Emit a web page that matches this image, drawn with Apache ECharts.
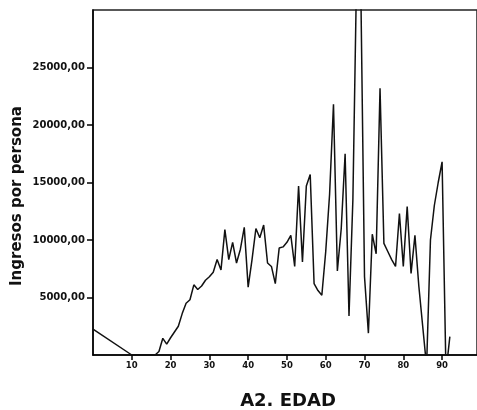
<!DOCTYPE html>
<html>
<head>
<meta charset="utf-8">
<script src="https://cdn.jsdelivr.net/npm/echarts@6/dist/echarts.min.js"></script>
<style>
html,body{margin:0;padding:0;background:#fff;}
#chart{width:477px;height:410px;}
</style>
</head>
<body>
<div id="chart"></div>
<script>
// Age (A2. EDAD)
var ages = [0, 10, 11, 12, 13, 14, 15, 16, 17, 18, 19, 20, 21, 22, 23, 24, 25, 26, 27, 28, 29,
  30, 31, 32, 33, 34, 35, 36, 37, 38, 39, 40, 41, 42, 43, 44, 45, 46, 47, 48, 49,
  50, 51, 52, 53, 54, 55, 56, 57, 58, 59, 60, 61, 62, 63, 64, 65, 66, 67, 68, 69,
  70, 71, 72, 73, 74, 75, 76, 77, 78, 79, 80, 81, 82, 83, 84, 85, 86, 87, 88, 89,
  90, 91, 92];
// Ingresos por persona
var ingresos = [2240, 0, 0, 0, 0, 0, 0, 0, 300, 1450, 950, 1500, 2000, 2500, 3600, 4500, 4800, 6100, 5700, 6000, 6500,
  6800, 7200, 8300, 7400, 10900, 8300, 9800, 8000, 9200, 11100, 5900, 8300, 11000, 10200, 11300, 8000, 7700, 6200, 9300, 9400,
  9800, 10400, 7700, 14700, 8100, 14700, 15700, 6200, 5600, 5200, 9000, 14000, 21800, 7300, 11000, 17500, 3400, 13500, 34000, 33000,
  6800, 1900, 10500, 8800, 23200, 9700, 9000, 8300, 7700, 12300, 7700, 12900, 7100, 10400, 6000, 2500, -1000, 10000, 13000, 15000,
  16800, -1500, 1600];
var xTicks = [10, 20, 30, 40, 50, 60, 70, 80, 90];
var yTicks = [5000, 10000, 15000, 20000, 25000];

var data = ages.map(function (a, i) { return [a, ingresos[i]]; });
var font = 'DejaVu Sans';

var chart = echarts.init(document.getElementById('chart'), null, {renderer: 'canvas'});
chart.setOption({
  animation: false,
  backgroundColor: '#fff',
  grid: {left: 93, right: -2, top: 10, bottom: 55, show: true, borderColor: '#222', borderWidth: 1.5, backgroundColor: 'transparent'},
  xAxis: {
    type: 'value', min: 0, max: 99,
    axisLine: {show: true, onZero: false, lineStyle: {color: '#000', width: 1.5}},
    axisTick: {show: true, customValues: xTicks, length: 5, lineStyle: {color: '#000', width: 1.5}},
    axisLabel: {customValues: xTicks, fontFamily: font, fontWeight: 'bold', fontSize: 8.5, color: '#111', margin: 6},
    splitLine: {show: false}
  },
  yAxis: {
    type: 'value', min: 0, max: 30000, interval: 5000,
    axisLine: {show: true, onZero: false, lineStyle: {color: '#000', width: 1.5}},
    axisTick: {show: true, customValues: yTicks, length: 6, lineStyle: {color: '#000', width: 1.5}},
    axisLabel: {customValues: yTicks, fontFamily: font, fontWeight: 'bold', fontSize: 10, color: '#111', margin: 8,
      formatter: function (v) { return v.toFixed(2).replace('.', ','); }},
    splitLine: {show: false}
  },
  graphic: [
    {type: 'text', x: 288, y: 401, style: {text: 'A2. EDAD', font: 'bold 18px "DejaVu Sans"', fill: '#111', x: 0, y: 0, textAlign: 'center', textVerticalAlign: 'middle'}},
    {type: 'text', x: 17, y: 196, rotation: Math.PI / 2, style: {text: 'Ingresos por persona', font: 'bold 15px "DejaVu Sans"', fill: '#111', x: 0, y: 0, textAlign: 'center', textVerticalAlign: 'middle'}}
  ],
  series: [{
    type: 'line', data: data, showSymbol: false, symbol: 'none', clip: true,
    lineStyle: {color: '#111', width: 1.5}
  }]
});
</script>
</body>
</html>
